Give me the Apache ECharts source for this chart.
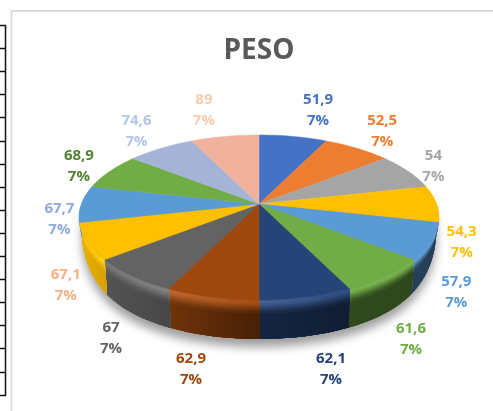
<!DOCTYPE html>
<html>
<head>
<meta charset="utf-8">
<style>
    html, body { margin: 0; padding: 0; background: #fff; }
    #chart { width: 493px; height: 411px; }
</style>
<script src="https://cdn.jsdelivr.net/npm/echarts@6/dist/echarts.min.js"></script>
</head>
<body>
<div id="chart"></div>
<script>
// labels come from the PESO column, every slice has the same weight
const categories = ['51,9', '52,5', '54', '54,3', '57,9', '61,6', '62,1', '62,9', '67', '67,1', '67,7', '68,9', '74,6', '89'];
const values = [1, 1, 1, 1, 1, 1, 1, 1, 1, 1, 1, 1, 1, 1];
const sliceColors = ['#4472c4', '#ed7d31', '#a5a5a5', '#ffc000', '#5b9bd5', '#70ad47', '#264478', '#9e480e', '#636363', '#ffc000', '#5b9bd5', '#70ad47', '#a5b3d6', '#f1b29d'];
const labelColors = ['#4472c4', '#ed7d31', '#a5a5a5', '#ffc000', '#5b9bd5', '#70ad47', '#264478', '#9e480e', '#636363', '#f4b183', '#8faadc', '#548235', '#b4c7e7', '#f8cbad'];

const total = values.reduce((a, b) => a + b, 0);
const FONT = '"Open Sans", sans-serif';

// tilted disc: perspective projection of the unit circle
const CX = 259, CY = 204, R = 177.6, S = 80.3, K = 0.1636, DEPTH = 39;

function project(deg) {
    let t = deg * Math.PI / 180;
    let u = Math.sin(t), v = Math.cos(t), w = 1 + K * v;
    return { x: CX + R * u / w, y: CY - S * v / w, u: u, v: v };
}

// wall height at that angle, it shrinks toward the silhouette
function wallPoint(deg, f) {
    let p = project(deg);
    let e = Math.max(3, DEPTH * Math.sqrt(1 - Math.pow(Math.abs(p.u), 6)));
    return [CX + (p.x - CX) * (1 - 0.015 * f), p.y + e * f];
}

function sliceRange(index) {
    let before = values.slice(0, index).reduce((a, b) => a + b, 0);
    return [before / total * 360, (before + values[index]) / total * 360];
}

function arc(a, b, fn) {
    let pts = [];
    let n = Math.max(2, Math.ceil((b - a) / 2));
    for (let i = 0; i <= n; i++) {
        pts.push(fn(a + (b - a) * i / n));
    }
    return pts;
}

function wallColor(hex, u, t) {
    let rgb = [1, 3, 5].map(i => parseInt(hex.substr(i, 2), 16));
    let f = u < 0 ? 0.55 - 0.38 * u : 0.45 - 0.05 * u;
    let add = u < 0 ? 30 * Math.min(1, (1 - Math.abs(u)) * 3) : 6;
    let c = rgb.map(x => Math.min(255, x + add) * (1 - t) + x * f * t);
    return 'rgb(' + c.map(Math.round).join(',') + ')';
}

const bandStart = [0, 0.08, 0.13, 0.18, 0.23, 0.28, 0.35];
const bandMix = [0, 0.1, 0.3, 0.5, 0.7, 0.88, 1];

function renderWall(params, api) {
    let range = sliceRange(params.dataIndex);
    let a = Math.max(range[0] - 0.2, 70), b = Math.min(range[1] + 0.2, 290);
    let children = [];
    if (a >= b) {
        return { type: 'group', children: children };
    }
    let hex = sliceColors[params.dataIndex];
    let pa = project(a), pb = project(b);
    // painted top down so each band covers the seam of the one before
    for (let j = 0; j < bandStart.length; j++) {
        let upper = arc(a, b, d => wallPoint(d, bandStart[j]));
        let lower = arc(a, b, d => wallPoint(d, 1)).reverse();
        children.push({
            type: 'polygon',
            shape: { points: upper.concat(lower) },
            style: {
                fill: {
                    type: 'linear', global: true,
                    x: pa.x, y: 0, x2: pb.x, y2: 0,
                    colorStops: [
                        { offset: 0, color: wallColor(hex, pa.u, bandMix[j]) },
                        { offset: 1, color: wallColor(hex, pb.u, bandMix[j]) }
                    ]
                }
            }
        });
    }
    return { type: 'group', children: children };
}

function renderShadow() {
    let lower = arc(90, 270, d => wallPoint(d, 1));
    return {
        type: 'polygon',
        shape: { points: lower },
        style: {
            fill: '#888',
            shadowBlur: 10,
            shadowColor: 'rgba(0,0,0,0.38)',
            shadowOffsetY: 8
        }
    };
}

function labelPoint(mid) {
    let p = project(mid);
    let dx = p.u >= 0 ? 25 : -21 - 10 * Math.max(0, 1 - Math.abs(p.v - 0.45) / 0.5);
    let dy = p.v >= 0.2 ? -28 * p.v * p.v : 27 - 46 * p.v + 11.5 * p.u * Math.pow(1 - Math.abs(p.v), 2);
    return [p.x + dx, p.y + dy];
}

function renderFace(params, api) {
    let i = params.dataIndex;
    let range = sliceRange(i);
    let rim = arc(range[0], range[1], d => {
        let p = project(d);
        return [p.x, p.y];
    });
    let pos = labelPoint((range[0] + range[1]) / 2);
    let percent = Math.round(api.value(0) / total * 100) + '%';
    return {
        type: 'group',
        children: [{
            type: 'polygon',
            shape: { points: [[CX, CY]].concat(rim) },
            style: { fill: sliceColors[i], stroke: sliceColors[i], lineWidth: 0.5 }
        }, {
            type: 'text',
            z2: 10,
            style: {
                x: pos[0], y: pos[1],
                text: categories[i] + '\n' + percent,
                fill: labelColors[i],
                align: 'center',
                verticalAlign: 'middle',
                lineHeight: 21,
                fontFamily: FONT,
                fontSize: 15,
                fontWeight: 'bold'
            }
        }]
    };
}

// chart frame and the edge of the sheet table on the left
let sheet = [
    { type: 'line', shape: { x1: 11.5, y1: 10, x2: 11.5, y2: 411 }, style: { stroke: '#dedede', lineWidth: 2 } },
    { type: 'line', shape: { x1: 10.5, y1: 11, x2: 493, y2: 11 }, style: { stroke: '#dedede', lineWidth: 2 } },
    { type: 'line', shape: { x1: 5.5, y1: 25, x2: 5.5, y2: 396 }, style: { stroke: '#111', lineWidth: 1.5 } }
];
for (let i = 0; i <= 16; i++) {
    let y = Math.round(25 + i * 23.1) + 0.5;
    sheet.push({ type: 'line', shape: { x1: 0, y1: y, x2: 6, y2: y }, style: { stroke: '#111', lineWidth: 1.5 } });
}

let data = values.map(v => [v]);
let myChart = echarts.init(document.getElementById('chart'));
myChart.setOption({
    animation: false,
    backgroundColor: '#fff',
    title: {
        text: 'PESO',
        left: 254,
        top: 32,
        textAlign: 'center',
        textStyle: { color: '#595959', fontFamily: FONT, fontSize: 28, fontWeight: 'bold' }
    },
    graphic: sheet,
    series: [
        { type: 'custom', coordinateSystem: 'none', silent: true, z: 1, data: [[0]], renderItem: renderShadow },
        { type: 'custom', coordinateSystem: 'none', silent: true, z: 2, data: data, renderItem: renderWall },
        { type: 'custom', coordinateSystem: 'none', silent: true, z: 3, data: data, renderItem: renderFace }
    ]
});
</script>
</body>
</html>
